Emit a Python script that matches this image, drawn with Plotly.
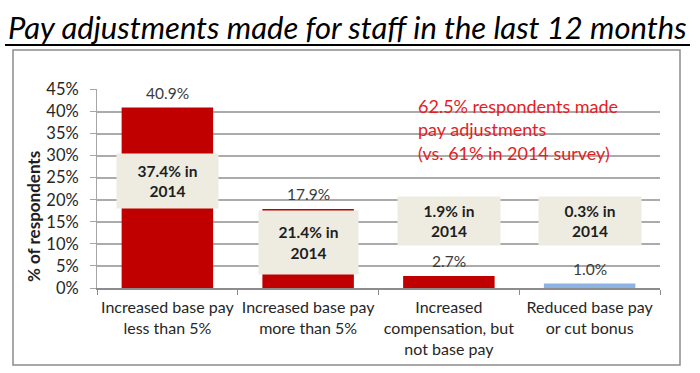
import plotly.graph_objects as go

# ---- data ----
categories = [
    "Increased base pay<br>less than 5%",
    "Increased base pay<br>more than 5%",
    "Increased<br>compensation, but<br>not base pay",
    "Reduced base pay<br>or cut bonus",
]
values_2015 = [40.9, 17.9, 2.7, 1.0]
values_2014 = [37.4, 21.4, 1.9, 0.3]
bar_colors = ["#C00000", "#C00000", "#C00000", "#8DB3E2"]
y_ticks = [0, 5, 10, 15, 20, 25, 30, 35, 40, 45]
y_tick_labels = [f"{v}%" for v in y_ticks]

title_text = "Pay adjustments made for staff in the last 12 months"
callout_text = "62.5% respondents made<br>pay adjustments<br>(vs. 61% in 2014 survey)"

FONT = "Lato"

fig = go.Figure()
fig.add_trace(go.Bar(
    x=categories, y=values_2015,
    marker=dict(color=bar_colors, line=dict(width=0)),
    hoverinfo="skip",
))

annotations = []
# value labels above bars
for c, v in zip(categories, values_2015):
    annotations.append(dict(
        x=c, y=v, xref="x", yref="y", text=f"{v:.1f}%",
        showarrow=False, yanchor="bottom", yshift=4,
        font=dict(family=FONT, size=15.5, color="#3a3a3a"),
    ))

# 2014 comparison boxes (layout placement)
box_y = [24.2, 10.3, 15.2, 15.2]
box_w = [99, 97, 100, 100]
box_h = [52, 61, 46, 46]
for c, prev, by, bw, bh in zip(categories, values_2014, box_y, box_w, box_h):
    annotations.append(dict(
        x=c, y=by, xref="x", yref="y", text=f"<b>{prev}% in<br>2014</b>",
        showarrow=False, bgcolor="#EEECE1", width=bw, height=bh,
        font=dict(family=FONT, size=15.5, color="#1e1e1e"),
        align="center", valign="middle",
    ))

# red callout
annotations.append(dict(
    x=(416 - 97) / 563, y=(288 - 93) / 199, xref="paper", yref="paper",
    text=callout_text, showarrow=False, xanchor="left", yanchor="top",
    align="left", font=dict(family=FONT, size=18, color="#E31E24"),
))

# y-axis title
annotations.append(dict(
    x=(33 - 97) / 563, y=(288 - 217) / 199, xref="paper", yref="paper",
    xanchor="center", yanchor="middle",
    text="<b>% of respondents</b>", showarrow=False, textangle=-90,
    font=dict(family=FONT, size=17, color="#1e1e1e"),
))

shapes = [
    # outer border
    dict(type="rect", xref="paper", yref="paper",
         x0=(13 - 97) / 563, x1=(680 - 97) / 563,
         y0=(288 - 365) / 199, y1=(288 - 50) / 199,
         line=dict(color="#8C8C8C", width=1.5), fillcolor="rgba(0,0,0,0)", layer="below"),
    # title underline
    dict(type="line", xref="paper", yref="paper",
         x0=(5 - 97) / 563, x1=(690 - 97) / 563,
         y0=(288 - 45) / 199, y1=(288 - 45) / 199,
         line=dict(color="#000000", width=2)),
]

fig.update_layout(
    width=700, height=373,
    margin=dict(l=97, r=40, t=89, b=85, autoexpand=False),
    paper_bgcolor="white", plot_bgcolor="white",
    showlegend=False,
    bargap=0.35,
    title=dict(
        text=title_text, x=8 / 700, xanchor="left", xref="container",
        y=1 - 28 / 373, yanchor="middle", yref="container",
        font=dict(family=FONT, size=31, color="#000000", style="italic"),
    ),
    annotations=annotations,
    shapes=shapes,
    xaxis=dict(
        automargin=False, tickangle=0,
        showline=True, linecolor="#8C8C8C", linewidth=1.5,
        ticks="outside", tickson="boundaries", ticklen=5, tickcolor="#8C8C8C",
        tickfont=dict(family=FONT, size=16, color="#262626"),
        ticklabelstandoff=4,
    ),
    yaxis=dict(
        automargin=False,
        range=[0, 45.1], tickvals=y_ticks, ticktext=y_tick_labels,
        showline=True, linecolor="#A6A6A6", linewidth=1,
        ticks="outside", ticklen=6, tickcolor="#A6A6A6",
        showgrid=True, gridcolor="#ABABAB", gridwidth=1.5,
        zeroline=False,
        tickfont=dict(family=FONT, size=16.5, color="#262626"),
        ticklabelstandoff=8,
    ),
)

fig.write_html("out.html", config={"displayModeBar": False},
               post_script="document.body.style.margin='0px';")
